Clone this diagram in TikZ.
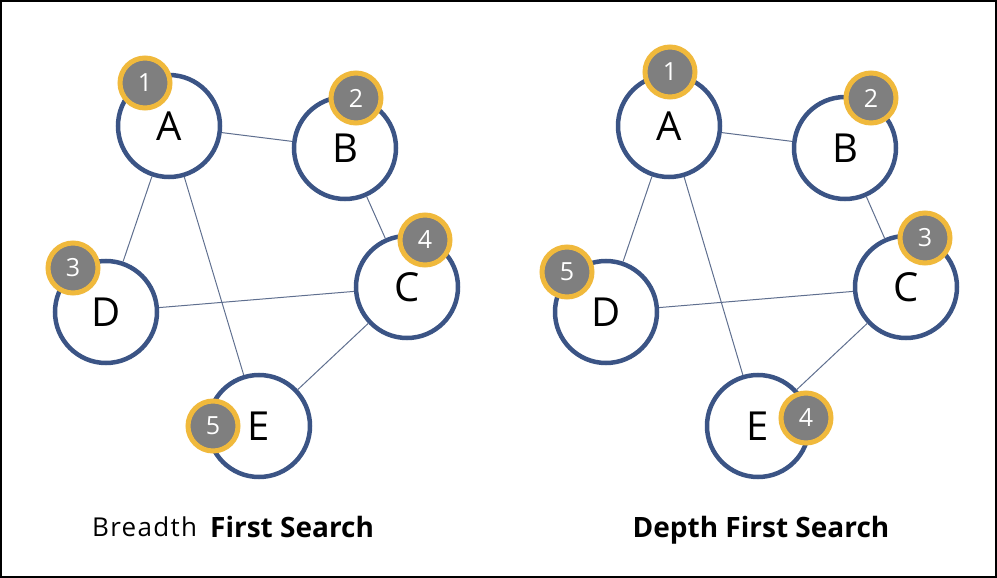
\documentclass[tikz,border=0pt]{standalone}
\usepackage{fontspec}
\setmainfont{Open Sans}
\newfontfamily\spacedfont[LetterSpace=5]{Open Sans}
\definecolor{ringblue}{HTML}{3B5485}
\definecolor{edgecol}{HTML}{5F6F8F}
\definecolor{gold}{HTML}{F0B93C}
\definecolor{badgegrey}{HTML}{7F7F7F}
\begin{document}
\begin{tikzpicture}[x=1pt,y=-1pt,
  vert/.style={circle,draw=ringblue,line width=4.5pt,fill=white,minimum size=102pt,inner sep=0pt,font=\fontsize{40}{40}\selectfont},
  badge/.style={circle,draw=gold,line width=5pt,fill=badgegrey,minimum size=50pt,inner sep=0pt,text=white,font=\fontsize{25}{25}\selectfont},
  edge/.style={draw=edgecol,line width=1pt},
  title/.style={font=\bfseries\fontsize{28}{28}\selectfont}]
\useasboundingbox (0,0) rectangle (997,578);
\draw[line width=2pt] (1,1) rectangle (996,577);
% left graph
\node[vert] (A) at (169,126) {A};
\node[vert] (B) at (345,148) {B};
\node[vert] (C) at (407,287) {C};
\node[vert] (D) at (106,312) {D};
\node[vert] (E) at (259,426) {E};
\draw[edge] (A) -- (B);
\draw[edge] (A) -- (D);
\draw[edge] (A) -- (E);
\draw[edge] (B) -- (C);
\draw[edge] (D) -- (C);
\draw[edge] (C) -- (E);
\node[badge] (b1) at (145,83) {1};
\node[badge] (b2) at (356,98) {2};
\node[badge] (b3) at (73,268) {3};
\node[badge] (b4) at (425,240) {4};
\node[badge] (b5) at (213,426) {5};
% right graph
\node[vert] (A2) at (669,126) {A};
\node[vert] (B2) at (845,148) {B};
\node[vert] (C2) at (906,287) {C};
\node[vert] (D2) at (606,312) {D};
\node[vert] (E2) at (758,426) {E};
\draw[edge] (A2) -- (B2);
\draw[edge] (A2) -- (D2);
\draw[edge] (A2) -- (E2);
\draw[edge] (B2) -- (C2);
\draw[edge] (D2) -- (C2);
\draw[edge] (C2) -- (E2);
\node[badge] (c1) at (670,72) {1};
\node[badge] (c2) at (871,98) {2};
\node[badge] (c3) at (925,238) {3};
\node[badge] (c4) at (806,418) {4};
\node[badge] (c5) at (567,272) {5};
% titles
\node[anchor=base west,font=\spacedfont\fontsize{26}{26}\selectfont,inner sep=0pt] (bf) at (92,536) {Breadth};
\node[anchor=base west,title,inner sep=0pt] (bfs) at (210,537) {First Search};
\node[anchor=base,title,inner sep=0pt] (dfs) at (761,537) {Depth First Search};
\end{tikzpicture}
\end{document}
